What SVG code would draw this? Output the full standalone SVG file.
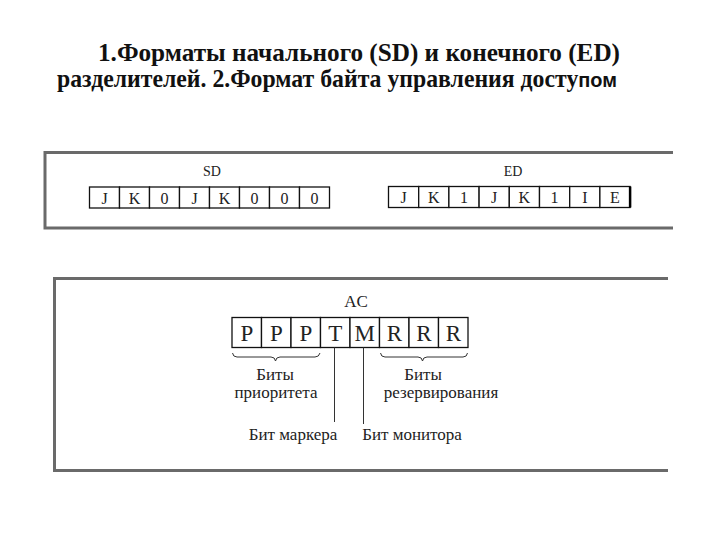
<svg xmlns="http://www.w3.org/2000/svg" width="720" height="540" viewBox="0 0 720 540">
<style>
.hd{font-family:"Liberation Serif","Times New Roman",serif;font-weight:bold;font-size:25px;fill:#111;text-anchor:middle}
.frame{fill:none;stroke:#6a6a6a;stroke-width:3}
.cell{fill:#fff;stroke:#111;stroke-width:1.3}
.c1{font-family:"Liberation Serif","Times New Roman",serif;font-size:16px;fill:#222;text-anchor:middle}
.lab{font-family:"Liberation Serif","Times New Roman",serif;font-size:14px;fill:#222;text-anchor:middle}
.c2{font-family:"Liberation Serif","Times New Roman",serif;font-size:23px;fill:#222;text-anchor:middle}
.t2{font-family:"Liberation Serif","Times New Roman",serif;font-size:17px;fill:#222;text-anchor:middle}
.ln{fill:none;stroke:#333;stroke-width:1}
</style>
<rect width="720" height="540" fill="#fff"/>
<g id="heading">
<text class="hd" font-family="Liberation Serif, serif" x="359" y="61" textLength="522" lengthAdjust="spacingAndGlyphs">1.Форматы начального (SD) и конечного (ED)</text>
<text class="hd" font-family="Liberation Serif, serif" x="337" y="87" textLength="560" lengthAdjust="spacingAndGlyphs">разделителей.  2.Формат байта управления досту<tspan font-family="Liberation Sans, Arial, sans-serif" font-size="21">пом</tspan></text>
</g>
<g id="panel1">
<path class="frame" d="M673 152.5 H45 V228 H673"/>
</g>
<g id="SD">
<text class="lab" x="212" y="176">SD</text>
<g>
<rect class="cell" x="89.5" y="187" width="30" height="21"/>
<rect class="cell" x="119.5" y="187" width="30" height="21"/>
<rect class="cell" x="149.5" y="187" width="30" height="21"/>
<rect class="cell" x="179.5" y="187" width="30" height="21"/>
<rect class="cell" x="209.5" y="187" width="30" height="21"/>
<rect class="cell" x="239.5" y="187" width="30" height="21"/>
<rect class="cell" x="269.5" y="187" width="30" height="21"/>
<rect class="cell" x="299.5" y="187" width="30" height="21"/>
</g>
<text class="c1" x="104.5" y="203.5">J</text>
<text class="c1" x="134.5" y="203.5">K</text>
<text class="c1" x="164.5" y="203.5">0</text>
<text class="c1" x="194.5" y="203.5">J</text>
<text class="c1" x="224.5" y="203.5">K</text>
<text class="c1" x="254.5" y="203.5">0</text>
<text class="c1" x="284.5" y="203.5">0</text>
<text class="c1" x="314.5" y="203.5">0</text>
</g>
<g id="ED">
<text class="lab" x="513" y="176">ED</text>
<g>
<rect class="cell" x="388.5" y="186.5" width="30.2" height="21"/>
<rect class="cell" x="418.7" y="186.5" width="30.2" height="21"/>
<rect class="cell" x="448.9" y="186.5" width="30.2" height="21"/>
<rect class="cell" x="479.1" y="186.5" width="30.2" height="21"/>
<rect class="cell" x="509.3" y="186.5" width="30.2" height="21"/>
<rect class="cell" x="539.5" y="186.5" width="30.2" height="21"/>
<rect class="cell" x="569.7" y="186.5" width="30.2" height="21"/>
<rect class="cell" x="599.9" y="186.5" width="30.2" height="21"/>
<line x1="630.1" y1="186.5" x2="630.1" y2="207.5" stroke="#000" stroke-width="2.5"/>
</g>
<text class="c1" x="403.6" y="203">J</text>
<text class="c1" x="433.8" y="203">K</text>
<text class="c1" x="464" y="203">1</text>
<text class="c1" x="494.2" y="203">J</text>
<text class="c1" x="524.4" y="203">K</text>
<text class="c1" x="554.6" y="203">1</text>
<text class="c1" x="584.8" y="203">I</text>
<text class="c1" x="615" y="203">E</text>
</g>
<g id="panel2">
<path class="frame" d="M668 278.5 H54.5 V470.5 H668"/>
</g>
<g id="AC">
<text class="t2" x="356" y="307" font-size="20">AC</text>
<g>
<rect class="cell" x="232" y="317.5" width="29.5" height="30"/>
<rect class="cell" x="261.5" y="317.5" width="29.5" height="30"/>
<rect class="cell" x="291" y="317.5" width="29.5" height="30"/>
<rect class="cell" x="320.5" y="317.5" width="29.5" height="30"/>
<rect class="cell" x="350" y="317.5" width="29.5" height="30"/>
<rect class="cell" x="379.5" y="317.5" width="29.5" height="30"/>
<rect class="cell" x="409" y="317.5" width="29.5" height="30"/>
<rect class="cell" x="438.5" y="317.5" width="29.5" height="30"/>
</g>
<text class="c2" x="246.8" y="341">P</text>
<text class="c2" x="276.3" y="341">P</text>
<text class="c2" x="305.8" y="341">P</text>
<text class="c2" x="335.3" y="341">T</text>
<text class="c2" x="364.8" y="341">M</text>
<text class="c2" x="394.3" y="341">R</text>
<text class="c2" x="423.8" y="341">R</text>
<text class="c2" x="453.3" y="341">R</text>
</g>
<g id="connectors">
<path class="ln" d="M232.5 353 Q233 357 237 357 H271 Q275 357 275.5 361 Q276 357 280 357 H315 Q319 357 320 353"/>
<path class="ln" d="M380.5 353 Q381 357 385 357 H418 Q422 357 422.5 361 Q423 357 427 357 H463 Q467 357 467.5 353"/>
<line class="ln" x1="334.5" y1="347.5" x2="334.5" y2="422"/>
<line class="ln" x1="363.5" y1="347.5" x2="363.5" y2="424"/>
</g>
<g id="labels">
<text class="t2" x="275" y="380">Биты</text>
<text class="t2" x="276" y="398">приоритета</text>
<text class="t2" x="423" y="380">Биты</text>
<text class="t2" x="441" y="398">резервирования</text>
<text class="t2" x="293" y="440">Бит маркера</text>
<text class="t2" x="412" y="440">Бит монитора</text>
</g>
</svg>
